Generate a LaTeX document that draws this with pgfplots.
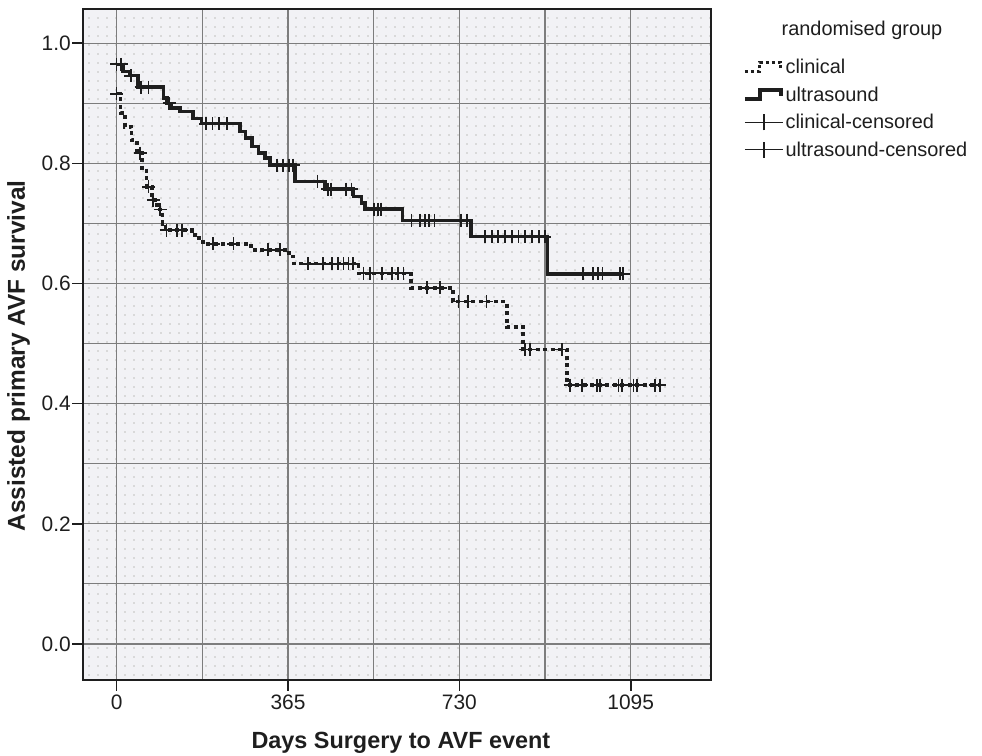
\documentclass[border=0pt]{standalone}
\usepackage{fontspec}
\setmainfont{Liberation Sans}
\usepackage{pgfplots}
\pgfplotsset{compat=1.18}
\usetikzlibrary{patterns}
\definecolor{bgc}{RGB}{242,242,245}
\definecolor{gridc}{RGB}{125,125,125}
\definecolor{ink}{RGB}{30,30,30}
\pgfdeclarepatternformonly{spssdots}{\pgfqpoint{0bp}{0bp}}{\pgfqpoint{8.5bp}{8.5bp}}{\pgfqpoint{8.5bp}{8.5bp}}{\pgfpathrectangle{\pgfqpoint{3.4bp}{3.4bp}}{\pgfqpoint{1.7bp}{1.7bp}}\pgfusepath{fill}}

\pgfplotstableread{
day surv
0 0.965
14 0.953
29 0.946
46 0.927
100 0.909
107 0.900
117 0.892
135 0.886
163 0.875
181 0.866
263 0.853
274 0.842
288 0.828
302 0.817
316 0.809
327 0.797
380 0.770
444 0.757
504 0.745
522 0.734
529 0.724
609 0.705
755 0.678
918 0.616
1081 0.616
}\ultra

\pgfplotstableread{
day surv
0 0.916
8 0.884
18 0.861
32 0.839
43 0.817
54 0.792
64 0.761
75 0.739
86 0.723
98 0.699
104 0.689
160 0.681
176 0.675
184 0.666
286 0.656
367 0.645
377 0.633
515 0.617
627 0.593
716 0.570
831 0.528
866 0.490
959 0.431
1160 0.431
}\clin

\pgfplotstableread{
day surv
0 0.965
10 0.965
30 0.946
52 0.927
68 0.927
112 0.900
190 0.866
204 0.866
218 0.866
235 0.866
341 0.797
355 0.797
367 0.797
376 0.797
428 0.770
450 0.757
456 0.757
488 0.757
500 0.757
548 0.724
556 0.724
563 0.724
628 0.705
646 0.705
657 0.705
666 0.705
677 0.705
733 0.705
746 0.705
785 0.678
799 0.678
813 0.678
827 0.678
842 0.678
856 0.678
870 0.678
884 0.678
900 0.678
912 0.678
994 0.616
1015 0.616
1026 0.616
1035 0.616
1072 0.616
1079 0.616
}\ultracens

\pgfplotstableread{
day surv
0 0.916
50 0.817
68 0.761
78 0.739
93 0.723
106 0.689
128 0.689
139 0.689
206 0.666
249 0.666
323 0.656
348 0.656
408 0.633
440 0.633
458 0.633
472 0.633
483 0.633
494 0.633
504 0.633
526 0.617
540 0.617
565 0.617
586 0.617
600 0.617
611 0.617
661 0.593
689 0.593
728 0.570
749 0.570
788 0.570
870 0.490
881 0.490
948 0.490
966 0.431
991 0.431
1023 0.431
1030 0.431
1069 0.431
1076 0.431
1101 0.431
1108 0.431
1147 0.431
1157 0.431
}\clincens

\begin{document}
\begin{tikzpicture}
\useasboundingbox (0,0) rectangle (982bp,756bp);
\begin{axis}[
  at={(83.3bp,76bp)}, anchor=south west,
  scale only axis, width=627.7bp, height=671bp,
  xmin=-71, xmax=1266, ymin=-0.06, ymax=1.057,
  xtick={0,365,730,1095}, minor xtick={182.5,547.5,912.5},
  ytick={0,0.2,0.4,0.6,0.8,1}, minor ytick={0.1,0.3,0.5,0.7,0.9},
  yticklabel style={xshift=2bp, /pgf/number format/.cd, fixed, fixed zerofill, precision=1},
  xticklabel style={/pgf/number format/.cd, fixed, 1000 sep={}},
  /pgf/number format/assume math mode=true,
  grid=both,
  major grid style={gridc, line width=1.1bp},
  minor grid style={gridc, line width=1.1bp},
  minor tick length=0pt, major tick length=11bp,
  tick align=outside, xtick pos=bottom, ytick pos=left,
  tick style={ink, line width=1.6bp},
  axis line style={ink, line width=2bp},
  axis background/.style={fill=bgc, postaction={pattern=spssdots, pattern color=gray!30}},
  ticklabel style={font=\fontsize{21}{24}\selectfont, text=ink},
  xlabel={Days Surgery to AVF event},
  ylabel={Assisted primary AVF survival},
  xlabel style={font=\bfseries\fontsize{23.5}{27}\selectfont, text=ink, at={(axis description cs:0.506,-0.094)}, anchor=center},
  ylabel style={font=\bfseries\fontsize{24.5}{28}\selectfont, text=ink, at={(axis description cs:-0.103,0.483)}, anchor=center},
  legend style={at={(axis description cs:1.051,0.928)}, anchor=north west,
    draw=none, fill=none, inner sep=0pt, row sep=7.5bp,
    font=\fontsize{20}{24}\selectfont, text=ink, cells={anchor=west}},
  legend cell align=left,
]
\addplot[const plot, ink, line width=3.5bp, forget plot] table[x=day,y=surv] {\ultra};
\addplot[const plot, ink, line width=3.6bp, dash pattern=on 4bp off 3.5bp, forget plot] table[x=day,y=surv] {\clin};
\addplot[only marks, mark=+, mark size=6.5bp, mark options={line width=1.7bp, ink}, forget plot] table[x=day,y=surv] {\ultracens};
\addplot[only marks, mark=+, mark size=6.5bp, mark options={line width=1.7bp, ink}, forget plot] table[x=day,y=surv] {\clincens};

\addlegendimage{legend image code/.code={\draw[ink, line width=3bp, dash pattern=on 3.5bp off 2.5bp] (0bp,-4bp) -- (15bp,-4bp) -- (15bp,5bp) -- (36bp,5bp) -- (36bp,-1bp);}}
\addlegendentry{clinical}
\addlegendimage{legend image code/.code={\draw[ink, line width=3.5bp] (0bp,-4bp) -- (15bp,-4bp) -- (15bp,5bp) -- (36bp,5bp) -- (36bp,-1bp);}}
\addlegendentry{ultrasound}
\addlegendimage{legend image code/.code={\draw[ink, line width=1.3bp] (0bp,0bp) -- (38bp,0bp); \draw[ink, line width=1.6bp] (19bp,-8bp) -- (19bp,8bp);}}
\addlegendentry{clinical-censored}
\addlegendimage{legend image code/.code={\draw[ink, line width=1.3bp] (0bp,0bp) -- (38bp,0bp); \draw[ink, line width=1.6bp] (19bp,-8bp) -- (19bp,8bp);}}
\addlegendentry{ultrasound-censored}
\end{axis}
\node[font=\fontsize{20}{24}\selectfont, text=ink, anchor=center] at (862bp,726bp) {randomised group};
\end{tikzpicture}
\end{document}
